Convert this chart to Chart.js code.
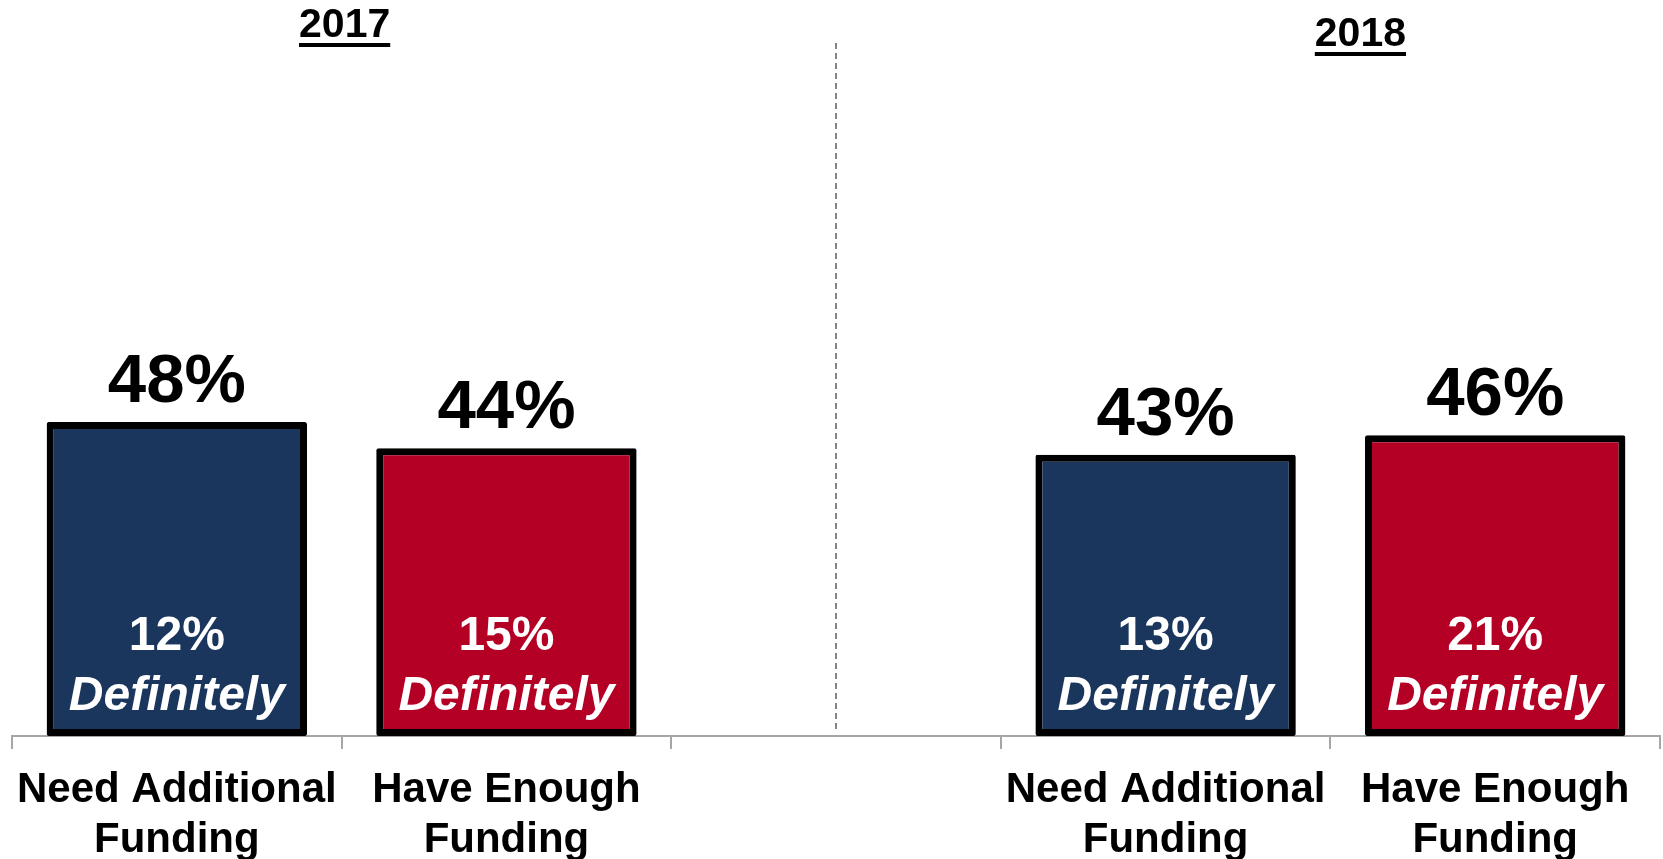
<!DOCTYPE html>
<html>
<head>
<meta charset="utf-8">
<script src="https://cdn.jsdelivr.net/npm/chart.js@4.4.1/dist/chart.umd.min.js"></script>
<style>
  html, body { margin: 0; padding: 0; background: #fff; }
  #wrap { width: 1663px; height: 859px; position: relative; }
</style>
</head>
<body>
<div id="wrap"><canvas id="funding-chart"></canvas></div>
<script>
// Categories (middle slot is an empty spacer between the two years)
const categories = [
  ['Need Additional', 'Funding'],
  ['Have Enough', 'Funding'],
  '',
  ['Need Additional', 'Funding'],
  ['Have Enough', 'Funding']
];
const totalPct = [48, 44, null, 43, 46];
const definitelyPct = [12, 15, null, 13, 21];
const barColors = ['#1b365d', '#b30024', '#ffffff', '#1b365d', '#b30024'];
const yearTitles = ['2017', '2018'];

const FONT = "'Liberation Sans', Arial, sans-serif";

// Draws value labels, inner "Definitely" labels, year titles and the divider
const annotations = {
  id: 'annotations',
  beforeDatasetsDraw(chart) {
    const ctx = chart.ctx;
    const x = chart.scales.x.getPixelForValue(2);
    ctx.save();
    ctx.strokeStyle = '#444';
    ctx.lineWidth = 1.3;
    ctx.setLineDash([6, 4]);
    ctx.beginPath();
    ctx.moveTo(x, 43);
    ctx.lineTo(x, 730);
    ctx.stroke();
    ctx.restore();
  },
  afterDatasetsDraw(chart) {
    const ctx = chart.ctx;
    const meta = chart.getDatasetMeta(0);
    ctx.save();
    ctx.textAlign = 'center';
    ctx.textBaseline = 'alphabetic';

    meta.data.forEach((bar, i) => {
      if (totalPct[i] == null) return;
      ctx.fillStyle = '#000';
      ctx.font = 'bold 69px ' + FONT;
      ctx.fillText(totalPct[i] + '%', bar.x, bar.y - 20);

      ctx.fillStyle = '#fff';
      ctx.font = 'bold 48px ' + FONT;
      ctx.fillText(definitelyPct[i] + '%', bar.x, bar.base - 86);
      ctx.font = 'italic bold 48px ' + FONT;
      ctx.fillText('Definitely', bar.x, bar.base - 26);
    });

    // year headings, underlined
    const xs = chart.scales.x;
    const titlePos = [
      { x: (xs.getPixelForValue(0) + xs.getPixelForValue(1)) / 2 + 3, y: 37 },
      { x: (xs.getPixelForValue(3) + xs.getPixelForValue(4)) / 2 + 30, y: 46 }
    ];
    ctx.fillStyle = '#000';
    ctx.font = 'bold 41px ' + FONT;
    yearTitles.forEach((t, i) => {
      const p = titlePos[i];
      ctx.fillText(t, p.x, p.y);
      const w = ctx.measureText(t).width;
      ctx.fillRect(p.x - w / 2, p.y + 6, w, 4);
    });
    ctx.restore();
  }
};

const ctx = document.getElementById('funding-chart').getContext('2d');
new Chart(ctx, {
  type: 'bar',
  data: {
    labels: categories,
    datasets: [{
      data: totalPct,
      backgroundColor: barColors,
      borderColor: '#000',
      borderWidth: 7,
      borderSkipped: false,
      borderRadius: 2,
      categoryPercentage: 1,
      barPercentage: 0.79
    }]
  },
  options: {
    responsive: true,
    maintainAspectRatio: false,
    animation: false,
    layout: { padding: { top: 82, left: 10, right: 3, bottom: 0 } },
    plugins: {
      legend: { display: false },
      tooltip: { enabled: false }
    },
    scales: {
      y: { display: false, min: 0, max: 100 },
      x: {
        afterFit(scale) { scale.height = 123; },
        border: { display: true, color: '#a6a6a6', width: 2 },
        grid: {
          drawOnChartArea: false,
          drawTicks: true,
          tickLength: 13,
          color: '#a6a6a6',
          lineWidth: 2,
          offset: true
        },
        ticks: {
          color: '#000',
          font: { family: FONT, size: 42, weight: 'bold', lineHeight: 1.2 },
          padding: 16,
          maxRotation: 0,
          autoSkip: false
        }
      }
    }
  },
  plugins: [annotations]
});
</script>
</body>
</html>
